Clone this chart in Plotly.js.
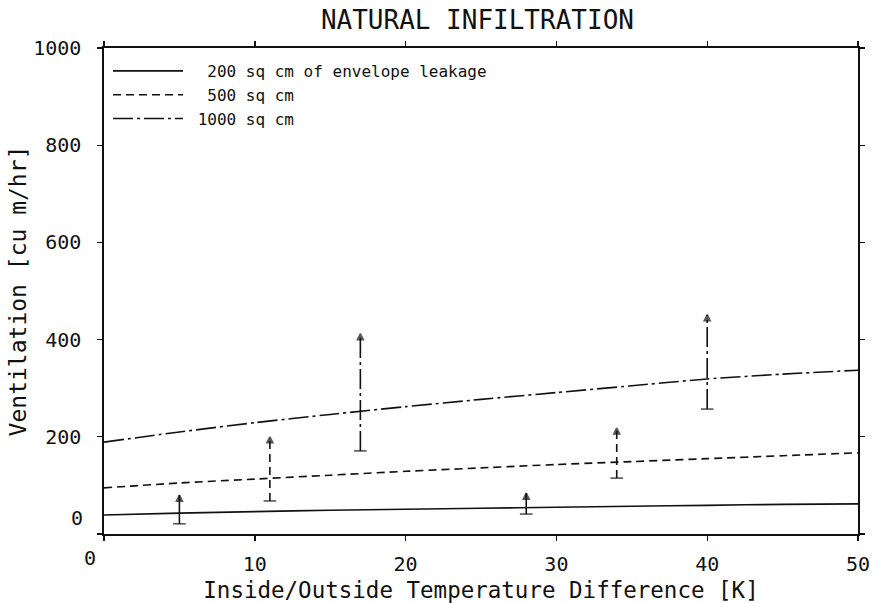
<!DOCTYPE html>
<html>
<head>
<meta charset="utf-8">
<script src="https://cdn.plot.ly/plotly-3.0.1.min.js"></script>
<style>html,body{margin:0;padding:0;background:#fff;}#chart{width:876px;height:603px;}</style>
</head>
<body>
<div id="chart"></div>
<script>
// ---- data ----
const tempDiff = [0, 5, 10, 15, 20, 25, 30, 35, 40, 45, 50];
const vent200  = [39, 43, 46, 49, 51, 53, 55, 57, 59, 61, 62];
const vent500  = [95, 105, 113, 121, 129, 136, 143, 149, 155, 161, 167];
const vent1000 = [189, 210, 229, 246, 262, 277, 291, 305, 319, 329, 337];

const seriesNames = ["\u00a0\u00a0200 sq cm of envelope leakage", "\u00a0\u00a0500 sq cm", "\u00a01000 sq cm"];

// vertical range arrows (x, low end, arrow tip)
const arrow200X = [5, 28],  arrow200Low = [21, 41],   arrow200High = [80, 84];
const arrow500X = [11, 34], arrow500Low = [68, 115],  arrow500High = [200, 218];
const arrow1000X = [17, 40], arrow1000Low = [171, 257], arrow1000High = [412, 451];

const xTicks = [0, 10, 20, 30, 40, 50];
const xTickText = ["", "10", "20", "30", "40", "50"];
const yTicks = [0, 200, 400, 600, 800, 1000];
const yTickText = ["", "200", "400", "600", "800", "1000"];

// ---- styles ----
const ink = "#111";
const dashes = ["solid", "8px,5px", "20px,4px,3px,4px"];
const FONT = "DejaVu Sans Mono, Liberation Mono, monospace";

const lineSeries = [vent200, vent500, vent1000];
const traces = lineSeries.map((ys, i) => ({
  type: "scatter", mode: "lines", x: tempDiff, y: ys, name: seriesNames[i],
  line: {color: ink, width: 1.6, dash: dashes[i], shape: "spline", smoothing: 0.6},
  hoverinfo: "skip"
}));

const arrowSets = [
  [arrow200X, arrow200Low, arrow200High],
  [arrow500X, arrow500Low, arrow500High],
  [arrow1000X, arrow1000Low, arrow1000High]
];
arrowSets.forEach((set, i) => {
  const [xs, lows, highs] = set;
  xs.forEach((xv, k) => {
    traces.push({
      type: "scatter", mode: "lines+markers", showlegend: false, hoverinfo: "skip",
      x: [xv, xv], y: [lows[k], highs[k]],
      line: {color: ink, width: 1.6, dash: dashes[i], backoff: 0},
      marker: {symbol: ["line-ew", "arrow-up"], size: [9, 6], color: ink,
               line: {color: ink, width: 1.6}}
    });
  });
});

const W = 876, H = 603, L = 104, R = 18, T = 48, B = 69;
const pw = W - L - R, ph = H - T - B;

const layout = {
  width: W, height: H,
  margin: {l: L, r: R, t: T, b: B},
  paper_bgcolor: "#fff", plot_bgcolor: "#fff",
  font: {family: FONT, color: ink, size: 20},
  title: {text: "NATURAL INFILTRATION", font: {family: FONT, size: 26, color: ink},
          x: 0.545, xanchor: "center", y: 1 - 20 / H, yanchor: "middle", yref: "container"},
  showlegend: true,
  legend: {x: (108 - L) / pw, y: 1 - (54 - T) / ph, xanchor: "left", yanchor: "top",
           bgcolor: "rgba(0,0,0,0)", borderwidth: 0, itemwidth: 70,
           font: {family: FONT, size: 16, color: ink}, tracegroupgap: 0},
  xaxis: {range: [0, 50], tickvals: xTicks, ticktext: xTickText,
          showgrid: false, zeroline: false, showline: true, linecolor: ink, linewidth: 1.6,
          mirror: "ticks", ticks: "outside", ticklen: 5, tickwidth: 1.4, tickcolor: ink,
          ticklabelstandoff: 6, tickfont: {family: FONT, size: 20, color: ink},
          title: {text: "Inside/Outside Temperature Difference [K]", standoff: 8,
                  font: {family: FONT, size: 22.5, color: ink}}},
  yaxis: {range: [0, 1000], tickvals: yTicks, ticktext: yTickText,
          showgrid: false, zeroline: false, showline: true, linecolor: ink, linewidth: 1.6,
          mirror: "ticks", ticks: "outside", ticklen: 5, tickwidth: 1.4, tickcolor: ink,
          ticklabelstandoff: 12, tickfont: {family: FONT, size: 20, color: ink},
          title: {text: "Ventilation [cu m/hr]", standoff: 0,
                  font: {family: FONT, size: 23, color: ink}}},
  annotations: [
    {text: "0", xref: "paper", yref: "paper", x: (90 - L) / pw, y: (H - B - 558) / ph,
     xanchor: "center", yanchor: "middle", showarrow: false, font: {family: FONT, size: 20, color: ink}},
    {text: "0", xref: "paper", yref: "paper", x: (85 - L) / pw, y: (H - B - 518) / ph,
     xanchor: "right", yanchor: "middle", showarrow: false, font: {family: FONT, size: 20, color: ink}}
  ]
};

Plotly.newPlot("chart", traces, layout, {displayModeBar: false, staticPlot: true});
</script>
</body>
</html>
